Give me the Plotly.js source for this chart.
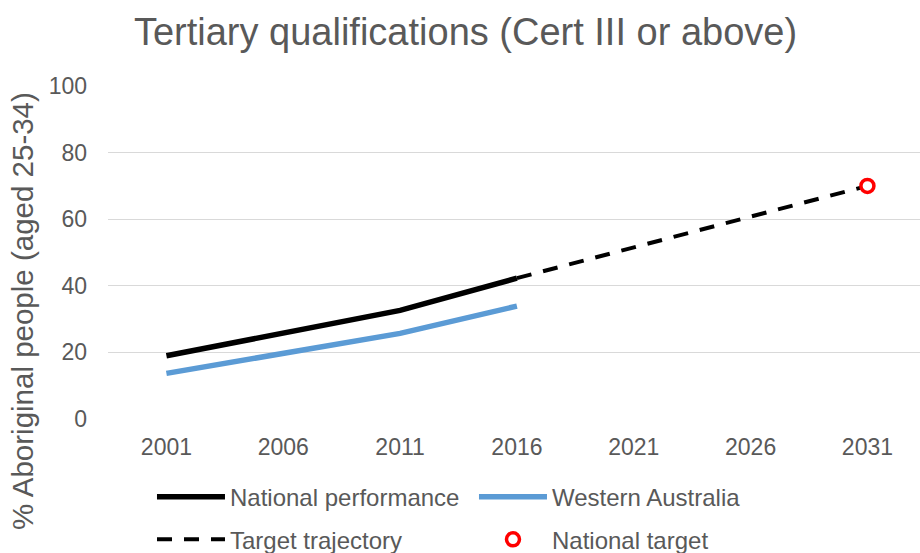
<!DOCTYPE html>
<html>
<head>
<meta charset="utf-8">
<script src="https://cdn.plot.ly/plotly-3.0.1.min.js"></script>
<style>html,body{margin:0;padding:0;background:#fff;overflow:hidden;}</style>
</head>
<body>
<div id="chart" style="width:920px;height:553px;"></div>
<script>
const years = ['2001','2006','2011','2016','2021','2026','2031'];
const nationalYears = ['2001','2006','2011','2016'];
const nationalPerformance = [19.0, 25.8, 32.6, 42.3];
const westernAustralia = [13.7, 19.8, 25.7, 33.9];
const targetYears = ['2016','2021','2026','2031'];
const targetTrajectory = [42.3, 51.5, 60.8, 70.0];
const nationalTargetYear = ['2031'];
const nationalTarget = [70.0];
const yTicks = [0, 20, 40, 60, 80, 100];

const grey = '#595959';
const font = 'Liberation Sans, Arial, sans-serif';

const traces = [
  {x: nationalYears, y: nationalPerformance, name: 'National performance', type: 'scatter', mode: 'lines',
   line: {color: '#000000', width: 5.5}, legend: 'legend'},
  {x: nationalYears, y: westernAustralia, name: 'Western Australia', type: 'scatter', mode: 'lines',
   line: {color: '#5b9bd5', width: 5.5}, legend: 'legend'},
  {x: targetYears, y: targetTrajectory, name: 'Target trajectory', type: 'scatter', mode: 'lines',
   line: {color: '#000000', width: 4, dash: '15px,12px'}, legend: 'legend2'},
  {x: nationalTargetYear, y: nationalTarget, name: 'National target', type: 'scatter', mode: 'markers',
   marker: {symbol: 'circle', size: 13, color: '#ffffff', line: {color: '#ff0000', width: 3.5}}, legend: 'legend2'}
];

const legendCommon = {orientation: 'h', xref: 'container', yref: 'container', x: 0.1652, xanchor: 'left',
  yanchor: 'middle', itemwidth: 68, entrywidth: 239, font: {size: 24, color: grey},
  bgcolor: 'rgba(0,0,0,0)', traceorder: 'normal'};

const layout = {
  width: 920, height: 553,
  margin: {l: 108, r: 0, t: 86, b: 134},
  paper_bgcolor: '#ffffff', plot_bgcolor: '#ffffff',
  font: {family: font, color: grey, size: 24},
  title: {text: 'Tertiary qualifications (Cert III or above)', font: {family: font, size: 38, color: grey},
          x: 0.506, xanchor: 'center', y: 0.942, yanchor: 'middle'},
  xaxis: {type: 'category', categoryorder: 'array', categoryarray: years, range: [-0.5, 6.45],
          showgrid: false, zeroline: false, showline: false, ticks: '', tickfont: {size: 23, color: grey},
          ticklabelstandoff: 12, fixedrange: true},
  yaxis: {range: [0, 100], tickvals: yTicks, showgrid: true, gridcolor: '#d9d9d9', gridwidth: 1.3,
          zeroline: false, showline: false, ticks: '', tickfont: {size: 23, color: grey},
          ticklabelstandoff: 20, fixedrange: true},
  showlegend: true,
  legend: Object.assign({}, legendCommon, {y: 0.101}),
  legend2: Object.assign({}, legendCommon, {y: 0.024}),
  annotations: [{text: '% Aboriginal people (aged 25-34)', textangle: -90, xref: 'paper', yref: 'paper',
                 x: -0.106, y: 0.324, xanchor: 'center', yanchor: 'middle', showarrow: false,
                 font: {family: font, size: 29.5, color: grey}}]
};

Plotly.newPlot('chart', traces, layout, {displayModeBar: false, staticPlot: true});
</script>
</body>
</html>
